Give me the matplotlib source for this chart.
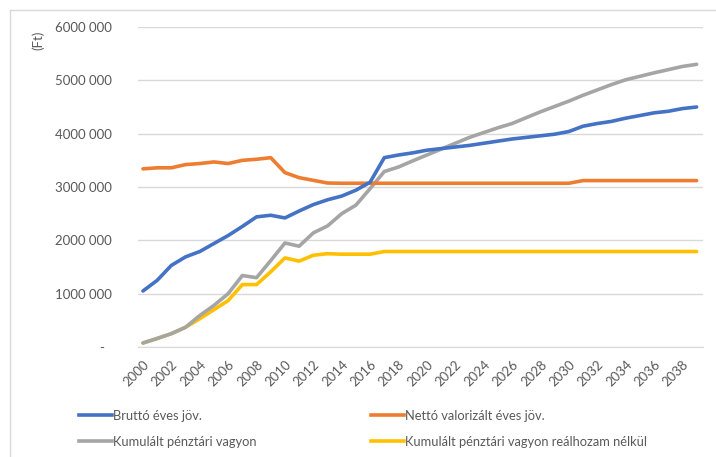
import numpy as np
import matplotlib
matplotlib.use("Agg")
import matplotlib.pyplot as plt
from matplotlib.lines import Line2D

years = list(range(2000, 2040))

brutto = [1.05, 1.25, 1.53, 1.69, 1.79, 1.94, 2.09, 2.26, 2.44, 2.47,
          2.42, 2.55, 2.67, 2.76, 2.83, 2.94, 3.09, 3.55, 3.60, 3.64,
          3.69, 3.72, 3.75, 3.78, 3.82, 3.86, 3.90, 3.93, 3.96, 3.99,
          4.04, 4.14, 4.19, 4.23, 4.29, 4.34, 4.39, 4.42, 4.47, 4.50]

netto = [3.34, 3.36, 3.36, 3.42, 3.44, 3.47, 3.44, 3.50, 3.52, 3.55,
         3.27, 3.175, 3.125, 3.075, 3.07, 3.07, 3.07, 3.07, 3.07, 3.07,
         3.07, 3.07, 3.07, 3.07, 3.07, 3.07, 3.07, 3.07, 3.07, 3.07,
         3.07, 3.12, 3.12, 3.12, 3.12, 3.12, 3.12, 3.12, 3.12, 3.12]

kumulalt = [0.075, 0.16, 0.25, 0.37, 0.59, 0.78, 1.00, 1.34, 1.30, 1.62,
            1.95, 1.89, 2.14, 2.27, 2.50, 2.66, 2.97, 3.29, 3.375, 3.49,
            3.60, 3.71, 3.82, 3.93, 4.02, 4.11, 4.19, 4.30, 4.41, 4.51,
            4.61, 4.72, 4.82, 4.92, 5.01, 5.075, 5.14, 5.20, 5.26, 5.30]

realhozam_nelkul = [0.075, 0.16, 0.25, 0.37, 0.53, 0.70, 0.87, 1.17, 1.17, 1.41,
                    1.67, 1.61, 1.72, 1.75, 1.74, 1.74, 1.74, 1.79, 1.79, 1.79,
                    1.79, 1.79, 1.79, 1.79, 1.79, 1.79, 1.79, 1.79, 1.79, 1.79,
                    1.79, 1.79, 1.79, 1.79, 1.79, 1.79, 1.79, 1.79, 1.79, 1.79]

series_names = ["Bruttó éves jöv.", "Nettó valorizált éves jöv.",
                "Kumulált pénztári vagyon", "Kumulált pénztári vagyon reálhozam nélkül"]
series_colors = ["#4472C4", "#ED7D31", "#A5A5A5", "#FFC000"]

y_ticks = [0, 1000000, 2000000, 3000000, 4000000, 5000000, 6000000]
y_tick_labels = ["-  ", "1000 000", "2000 000", "3000 000", "4000 000", "5000 000", "6000 000"]
x_tick_years = list(range(2000, 2039, 2))

plt.rcParams["font.family"] = ["Lato", "DejaVu Sans"]
text_color = "#595959"

fig = plt.figure(figsize=(7.16, 4.57), dpi=100)
ax = fig.add_axes([138 / 716, 1 - 347 / 457, (703 - 138) / 716, (347 - 27) / 457])

all_series = [brutto, netto, kumulalt, realhozam_nelkul]
# gray and yellow underneath, blue and orange on top
order = [3, 2, 1, 0]
for i in order:
    vals = np.array(all_series[i]) * 1e6
    ax.plot(years, vals, color=series_colors[i], lw=2.6, solid_capstyle="round",
            solid_joinstyle="round", zorder=3 + (3 - i) * 0.1)

ax.set_xlim(1999.65, 2039.45)
ax.set_ylim(0, 6000000)
ax.set_yticks(y_ticks)
ax.set_yticklabels(y_tick_labels)
ax.set_xticks(x_tick_years)
ax.set_xticklabels([str(y) for y in x_tick_years], rotation=45, ha="right",
                   va="top", rotation_mode="anchor")

ax.grid(axis="y", color="#D9D9D9", lw=1.0)
ax.set_axisbelow(True)
for s in ["top", "right", "left"]:
    ax.spines[s].set_visible(False)
ax.spines["bottom"].set_color("#D9D9D9")
ax.tick_params(axis="both", length=0, colors=text_color, labelsize=9.5)
ax.tick_params(axis="y", pad=19)
ax.tick_params(axis="x", pad=8)

fig.text(38 / 716, 1 - 40 / 457, "(Ft)", rotation=90, ha="center", va="center",
         color=text_color, fontsize=9.5)

# legend in two columns beneath the plot, filled row by row
leg_order = [0, 2, 1, 3]
handles = [Line2D([0], [0], color=series_colors[i], lw=2.6) for i in leg_order]
labels = [series_names[i] for i in leg_order]
leg = fig.legend(handles, labels, ncol=2, loc="upper left",
                 bbox_to_anchor=(79 / 716, 1 - 409.5 / 457), frameon=False,
                 borderpad=0, borderaxespad=0,
                 handlelength=2.55, handletextpad=0.1, columnspacing=8.85,
                 labelspacing=1.09, fontsize=9.3, labelcolor=text_color)

# light frame along the top and left edges
fig.add_artist(Line2D([10 / 716, 10 / 716], [0, 1 - 10 / 457],
                      transform=fig.transFigure, color="#D9D9D9", lw=1))
fig.add_artist(Line2D([10 / 716, 1], [1 - 10 / 457, 1 - 10 / 457],
                      transform=fig.transFigure, color="#D9D9D9", lw=1))

fig.savefig("out.png", dpi=100)
